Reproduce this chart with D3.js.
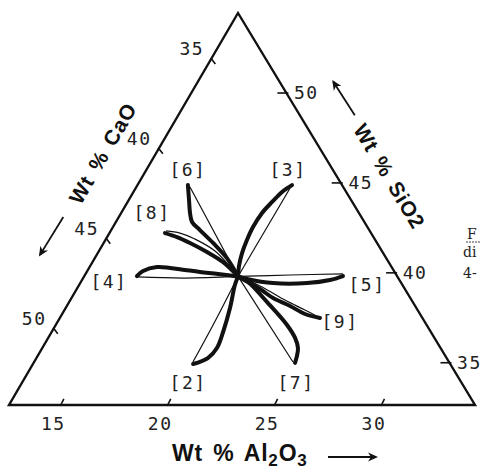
<!DOCTYPE html>
<html>
<head>
<meta charset="utf-8">
<script src="https://cdnjs.cloudflare.com/ajax/libs/d3/7.8.5/d3.min.js"></script>
<style>
	body { margin: 0; background: #fff; }
	svg { display: block; }
	.edge { fill: none; stroke: #111; stroke-width: 2.4; stroke-linejoin: miter; }
	.tick { stroke: #111; stroke-width: 1.6; }
	.ticklabel, .plabel { font-family: "DejaVu Sans Mono", monospace; font-size: 18px; letter-spacing: 1.5px; fill: #222; }
	.title { font-family: "Liberation Sans", Arial, sans-serif; font-weight: bold; font-size: 21px; letter-spacing: 0.8px; word-spacing: 3px; fill: #111; }
	.title.base { font-size: 23px; }
	.heavy { fill: none; stroke: #111; stroke-width: 4; stroke-linecap: round; stroke-linejoin: round; }
	.thin { fill: none; stroke: #111; stroke-width: 1.2; }
	.arrow { stroke: #111; stroke-width: 1.8; fill: none; }
	.caption { font-family: "DejaVu Serif", serif; font-size: 14px; fill: #222; }
</style>
</head>
<body>
<div id="chart"></div>
<script>
// composition window shown by the triangle (wt %)
const AL_MIN = 12.6, CA_MIN = 32.5, SI_MIN = 32.65, SPAN = 21.8;

const alTicks = [15, 20, 25, 30];
const caTicks = [35, 40, 45, 50];
const siTicks = [35, 40, 45, 50];

// all loops start from the same bulk composition [Al2O3, SiO2]
const centre = [19.8, 39.8];

const loopNames = ['[2]', '[3]', '[4]', '[5]', '[6]', '[7]', '[8]', '[9]'];

// heavy side of each loop, tip -> centre, [Al2O3, SiO2]
const heavyBranches = [
	[[20.09, 34.93], [20.62, 35.26], [20.77, 35.82], [20.62, 36.71], [20.29, 38.04], [19.89, 39.32]],
	[[19.83, 44.88], [19.55, 44.50], [19.36, 43.94], [19.19, 43.33], [19.15, 42.55], [19.22, 41.83], [19.35, 41.10], [19.56, 40.38]],
	[[15.06, 39.82], [15.21, 40.10], [15.75, 40.32], [16.39, 40.27], [17.14, 40.16], [17.90, 40.05], [18.80, 39.94]],
	[[24.70, 39.82], [24.20, 39.60], [23.21, 39.43], [21.62, 39.43], [20.29, 39.66]],
	[[14.96, 44.88], [15.42, 44.05], [15.82, 43.33], [16.16, 42.83], [16.75, 42.38], [17.72, 41.66], [18.78, 40.82]],
	[[24.83, 34.99], [24.73, 35.38], [24.56, 35.82], [24.15, 36.38], [23.42, 37.10], [21.85, 38.38], [20.42, 39.49]],
	[[15.20, 42.21], [15.87, 41.99], [16.64, 41.66], [17.68, 41.16], [18.70, 40.60]],
	[[24.77, 37.49], [23.96, 37.71], [23.04, 38.16], [22.03, 38.60], [21.17, 39.10]]
];

// thin return side of each loop, tip -> centre
const thinBranches = [
	[[20.03, 35.04], [19.96, 37.10]],
	[[19.82, 44.72]],
	[[15.09, 39.77], [17.36, 39.71]],
	[[24.64, 39.94], [22.19, 39.88]],
	[[15.11, 44.77]],
	[[24.71, 35.04]],
	[[15.19, 42.33], [15.90, 42.21], [16.76, 41.88], [18.03, 41.21]],
	[[24.77, 37.49], [23.85, 37.93], [22.64, 38.49], [21.09, 39.27]]
];

// where each loop name sits relative to its tip (px)
const labelNudge = [[-5, 19], [-4, -15], [-28, 6], [24, 9], [0, -15], [1, 20], [-13, -20], [20, 4]];

document.addEventListener('DOMContentLoaded', function() {

	const W = 481, H = 469;
	const corner = { L: [9, 405], R: [475, 405], A: [238, 13] };

	const alScale = d3.scaleLinear().domain([AL_MIN, AL_MIN + SPAN]).range([0, 1]);
	const caScale = d3.scaleLinear().domain([CA_MIN, CA_MIN + SPAN]).range([0, 1]);
	const siScale = d3.scaleLinear().domain([SI_MIN, SI_MIN + SPAN]).range([0, 1]);

	// u: share towards R (Al2O3), v: share towards A (SiO2)
	function bary(u, v) {
		return [
			corner.L[0] + u * (corner.R[0] - corner.L[0]) + v * (corner.A[0] - corner.L[0]),
			corner.L[1] + u * (corner.R[1] - corner.L[1]) + v * (corner.A[1] - corner.L[1])
		];
	}
	const toXY = d => bary(alScale(d[0]), siScale(d[1]));
	const unit = (a, b) => {
		const dx = b[0] - a[0], dy = b[1] - a[1], l = Math.hypot(dx, dy);
		return [dx / l, dy / l];
	};

	const svg = d3.select('#chart')
		.append('svg')
			.attr('width', W)
			.attr('height', H);

	svg.append('defs')
		.append('marker')
			.attr('id', 'head')
			.attr('viewBox', '0 -5 10 10')
			.attr('refX', 8)
			.attr('markerUnits', 'userSpaceOnUse')
			.attr('markerWidth', 11)
			.attr('markerHeight', 10)
			.attr('orient', 'auto')
		.append('path')
			.attr('d', 'M0,-4.5L10,0L0,4.5L3,0Z')
			.attr('fill', '#111');

	// frame
	svg.append('path')
		.attr('class', 'edge')
		.attr('d', d3.line()([bary(0, 0), bary(1, 0), bary(0, 1)]) + 'Z');

	const upLeft = unit(corner.L, corner.A);   // constant Al2O3 direction
	const downRight = unit(corner.A, corner.R); // constant CaO direction

	// Al2O3 on the base
	const alG = svg.append('g');
	alTicks.forEach(a => {
		const p = bary(alScale(a), 0);
		alG.append('line')
			.attr('class', 'tick')
			.attr('x1', p[0]).attr('y1', p[1] + 1)
			.attr('x2', p[0] + 7 * upLeft[0]).attr('y2', p[1] + 7 * upLeft[1]);
		alG.append('text')
			.attr('class', 'ticklabel')
			.attr('x', p[0] - 7)
			.attr('y', p[1] + 25)
			.attr('text-anchor', 'middle')
			.text(a);
	});

	// CaO on the left side
	const caG = svg.append('g');
	caTicks.forEach(c => {
		const p = bary(0, 1 - caScale(c));
		caG.append('line')
			.attr('class', 'tick')
			.attr('x1', p[0] - 1).attr('y1', p[1])
			.attr('x2', p[0] + 7 * downRight[0]).attr('y2', p[1] + 7 * downRight[1]);
		caG.append('text')
			.attr('class', 'ticklabel')
			.attr('x', p[0] - 20)
			.attr('y', p[1] - 9)
			.attr('dy', '0.35em')
			.attr('text-anchor', 'middle')
			.text(c);
	});

	// SiO2 on the right side
	const siG = svg.append('g');
	siTicks.forEach(s => {
		const v = siScale(s);
		const p = bary(1 - v, v);
		siG.append('line')
			.attr('class', 'tick')
			.attr('x1', p[0] - 9).attr('y1', p[1])
			.attr('x2', p[0] + 2).attr('y2', p[1]);
		siG.append('text')
			.attr('class', 'ticklabel')
			.attr('x', p[0] + 20)
			.attr('y', p[1])
			.attr('dy', '0.35em')
			.attr('text-anchor', 'middle')
			.text(s);
	});

	// loops
	const smooth = d3.line().curve(d3.curveCatmullRom.alpha(0.5));
	const loops = svg.append('g');
	loopNames.forEach((name, i) => {
		loops.append('path')
			.attr('class', 'thin')
			.attr('d', smooth(thinBranches[i].concat([centre]).map(toXY)));
		loops.append('path')
			.attr('class', 'heavy')
			.attr('d', smooth(heavyBranches[i].concat([centre]).map(toXY)));
		const tip = toXY(heavyBranches[i][0]);
		loops.append('text')
			.attr('class', 'plabel')
			.attr('x', tip[0] + labelNudge[i][0])
			.attr('y', tip[1] + labelNudge[i][1])
			.attr('dy', '0.35em')
			.attr('text-anchor', 'middle')
			.text(name);
	});

	// axis titles
	const nLeft = [-0.863, -0.504], nRight = [0.856, -0.517];
	const alongLeft = (t, off) => {
		const p = bary(0, 1 - t);
		return [p[0] + off * nLeft[0], p[1] + off * nLeft[1]];
	};
	const alongRight = (t, off) => {
		const p = bary(t, 1 - t);
		return [p[0] + off * nRight[0], p[1] + off * nRight[1]];
	};

	const lt = alongLeft(0.417, 46);
	svg.append('text')
		.attr('class', 'title')
		.attr('text-anchor', 'middle')
		.attr('dy', '0.35em')
		.attr('transform', `translate(${lt[0]},${lt[1]}) rotate(-59.7)`)
		.text('Wt % CaO');
	const la0 = alongLeft(0.582, 48), la1 = alongLeft(0.68, 49);
	svg.append('line')
		.attr('class', 'arrow')
		.attr('x1', la0[0]).attr('y1', la0[1])
		.attr('x2', la1[0]).attr('y2', la1[1])
		.attr('marker-end', 'url(#head)');

	const rt = alongRight(0.476, 45);
	svg.append('text')
		.attr('class', 'title')
		.attr('text-anchor', 'middle')
		.attr('dy', '0.35em')
		.attr('transform', `translate(${rt[0]},${rt[1]}) rotate(59.1)`)
		.text('Wt % SiO2');
	const ra0 = alongRight(0.323, 47), ra1 = alongRight(0.236, 46);
	svg.append('line')
		.attr('class', 'arrow')
		.attr('x1', ra0[0]).attr('y1', ra0[1])
		.attr('x2', ra1[0]).attr('y2', ra1[1])
		.attr('marker-end', 'url(#head)');

	const bt = svg.append('text')
		.attr('class', 'title base')
		.attr('x', 172)
		.attr('y', 461);
	bt.append('tspan').text('Wt % Al');
	bt.append('tspan').attr('font-size', 17).attr('dy', 5).text('2');
	bt.append('tspan').attr('dy', -5).text('O');
	bt.append('tspan').attr('font-size', 17).attr('dy', 5).text('3');
	svg.append('line')
		.attr('class', 'arrow')
		.attr('x1', 328).attr('y1', 457)
		.attr('x2', 376).attr('y2', 457)
		.attr('marker-end', 'url(#head)');

	// edge of the neighbouring caption, cut by the page
	svg.append('text').attr('class', 'caption').attr('x', 467).attr('y', 239).text('F');
	svg.append('line')
		.attr('x1', 466).attr('y1', 242).attr('x2', 480).attr('y2', 242)
		.attr('stroke', '#444').attr('stroke-dasharray', '2,1');
	svg.append('text').attr('class', 'caption').attr('x', 463).attr('y', 257).text('di');
	svg.append('text').attr('class', 'caption').attr('x', 463).attr('y', 278).text('4-');
});
</script>
</body>
</html>
